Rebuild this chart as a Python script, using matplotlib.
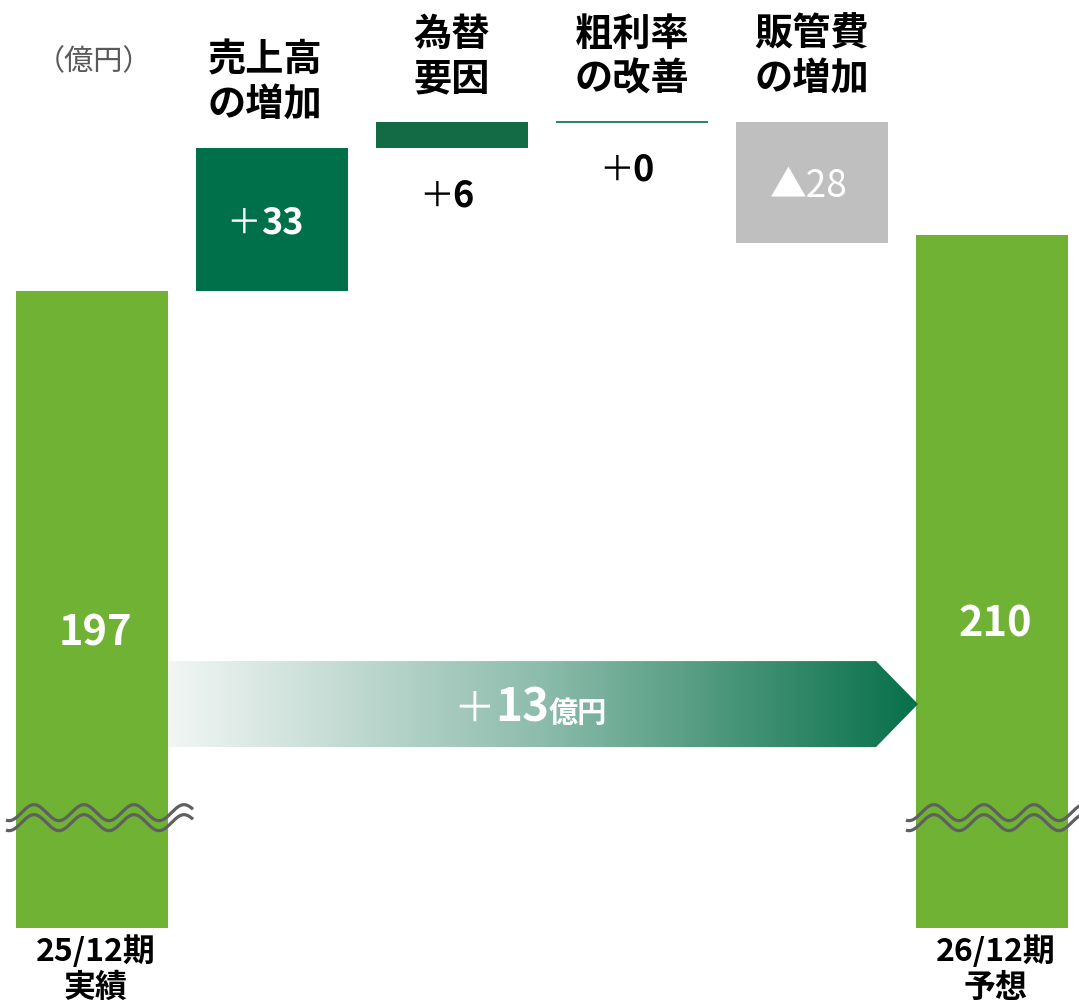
import numpy as np
import matplotlib
matplotlib.use('Agg')
import matplotlib.pyplot as plt
from matplotlib import patches
from matplotlib.colors import LinearSegmentedColormap
from matplotlib.transforms import offset_copy

plt.rcParams['font.family'] = ['Noto Sans CJK JP', 'DejaVu Sans']

# data
start_label = '25/12期\n実績'
end_label = '26/12期\n予想'
start_value = 197
end_value = 210
step_names = ['売上高\nの増加', '為替\n要因', '粗利率\nの改善', '販管費\nの増加']
step_values = [33, 6, 0, -28]
step_signs = ['＋', '＋', '＋', '▲']
total_change = 13
unit = '億円'

base = 50          # bars are drawn from here, axis is broken
break_level = 75.6 # where the wavy break marks sit
value_label_y = [118.2, 120.3]

green = '#70b233'
step_colors = ['#00704a', '#136b45', '#157a50', '#bfbfbf']

fig = plt.figure(figsize=(10.79, 10.03), dpi=100)
ax = fig.add_axes([0, 0, 1, 1])
ax.set_axis_off()

px = 4.33                    # pixels per 億円
ymax = start_value + 292 / px
ymin = ymax - 1003 / px
xmin, xmax = -92 / 180, (1079 - 92) / 180
w = 152 / 180

xs = np.arange(len(step_values) + 2)
renderer = fig.canvas.get_renderer()


def pieces(x, yc, parts, color, main_size, gap=0):
    # baseline-aligned run of text pieces centred on x, vertically centred on yc
    yb = yc - 0.36 * main_size * 1.389 / px
    texts = []
    widths = []
    for s, size, weight in parts:
        t = ax.text(x, yb, s, ha='left', va='baseline', fontsize=size,
                    fontweight=weight, color=color, zorder=6)
        texts.append(t)
        widths.append(t.get_window_extent(renderer).width + gap)
    widths[-1] -= gap
    off = -sum(widths) / 2
    for t, wd in zip(texts, widths):
        t.set_transform(offset_copy(ax.transData, fig=fig, x=off, y=0, units='dots'))
        off += wd


# end bars
for k, (x, v, lab) in enumerate([(xs[0], start_value, start_label), (xs[-1], end_value, end_label)]):
    ax.bar(x, v - base, bottom=base, width=w, color=green, zorder=2)
    ax.text(x + 0.02, value_label_y[k], str(v), ha='center', va='center', fontsize=30,
            fontweight='bold', color='white', zorder=6)
    ax.text(x + 0.02, base - 1.5, lab, ha='center', va='top', fontsize=23,
            fontweight='bold', linespacing=1.18, color='black')
    # wavy break marks
    wx = np.linspace(x - w / 2 - 10 / 180, x + w / 2 + 25 / 180, 300)
    phase = 2 * np.pi * (wx - (x - w / 2) - 18 / 180) / (50 / 180)
    for dy in [0, -10 / px]:
        ax.plot(wx, break_level + 4 / px + dy + 8 / px * np.cos(phase),
                color='#606060', lw=2.3, solid_capstyle='butt', zorder=4)

# steps
level = start_value
for i, v in enumerate(step_values):
    x = xs[i + 1]
    lo, hi = min(level, level + v), max(level, level + v)
    if v == 0:
        ax.hlines(level, x - w / 2, x + w / 2, color=step_colors[i], lw=1.3, zorder=3)
    else:
        ax.bar(x, hi - lo, bottom=lo, width=w, color=step_colors[i], zorder=3)
    ax.text(x - (0.04 if i == 0 else 0), hi + 25 / px, step_names[i], ha='center', va='bottom',
            fontsize=27.5, fontweight='bold', linespacing=1.17, color='black')
    if abs(v) >= 10:
        if v > 0:
            pieces(x - 0.04, (lo + hi) / 2, [(step_signs[i], 25, 'normal'), (str(abs(v)), 26, 'bold')],
                   'white', 26)
        else:
            pieces(x - 0.02, (lo + hi) / 2, [(step_signs[i] + str(abs(v)), 26.5, 'normal')], 'white', 26.5)
    else:
        pieces(x - 0.03, lo - 10.3, [(step_signs[i], 25, 'normal'), (str(abs(v)), 26, 'bold')],
               'black', 26, gap=-2)
    level += v

# unit
ax.text(xs[0] + 0.01, ymax - 62 / px, '（億円）', ha='center', va='center', fontsize=21,
        color='#595959')

# gradient arrow
ay = 101.6
ah = 43 / px
x0 = xs[0] + w / 2
xtip = xs[-1] - w / 2 + 2 / 180
xsh = xtip - 42 / 180
arrow = patches.Polygon([(x0, ay - ah), (xsh, ay - ah), (xtip, ay), (xsh, ay + ah), (x0, ay + ah)],
                        closed=True, facecolor='none', edgecolor='none', zorder=5)
ax.add_patch(arrow)
cmap = LinearSegmentedColormap.from_list('g', ['#f2f6f4', '#8cbcab', '#07704a'])
grad = np.linspace(0, 1, 256).reshape(1, -1)
im = ax.imshow(grad, extent=[x0, xtip, ay - ah, ay + ah], aspect='auto', cmap=cmap,
               zorder=5, interpolation='bilinear')
im.set_clip_path(arrow)
pieces((x0 + xtip) / 2 - 0.07, ay, [('＋', 30, 'normal'), (str(total_change), 33, 'bold'),
                                     (unit, 21, 'bold')], 'white', 33)

ax.set_xlim(xmin, xmax)
ax.set_ylim(ymin, ymax)

fig.savefig('out.png', dpi=100)
